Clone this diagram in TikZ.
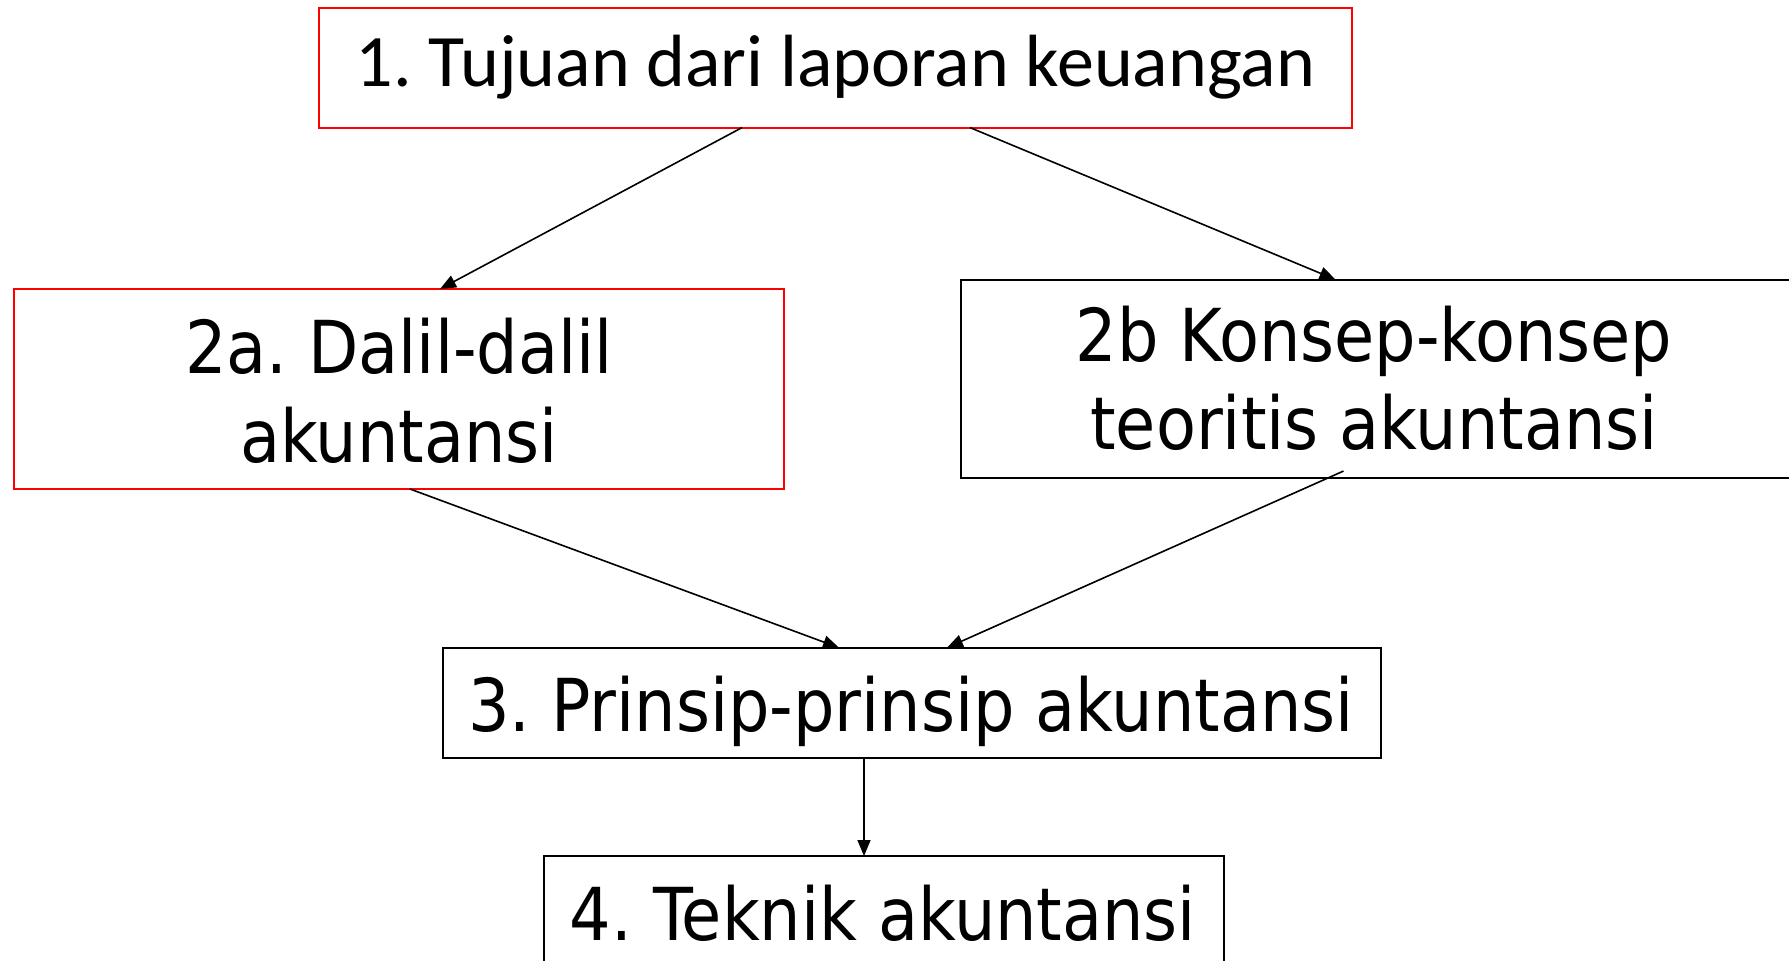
\documentclass[tikz,border=0pt]{standalone}
\usepackage{fontspec}
\setmainfont{DejaVu Sans}
\newfontfamily\calib{Carlito}
\usetikzlibrary{arrows.meta,calc}
\frenchspacing
\begin{document}
\begin{tikzpicture}[x=1pt,y=-1pt,
  redbox/.style={draw=red,line width=2pt,inner sep=0pt,outer sep=0pt},
  blkbox/.style={draw=black,line width=2pt,inner sep=0pt,outer sep=0pt},
  dtxt/.style={anchor=base,inner sep=0pt,font=\fontsize{73}{88}\selectfont},
  ctxt/.style={anchor=base,inner sep=0pt,font=\calib\fontsize{74}{88}\selectfont},
  arr/.style={line width=1.6pt,-{Triangle[length=16pt,width=13pt]}}
]
\useasboundingbox (0,0) rectangle (1789,961);
\fill[white] (0,0) rectangle (1789,961);

% boxes
\node[redbox,minimum width=1033pt,minimum height=120pt] (b1) at (835.5,67.6) {};
\node[redbox,minimum width=770pt,minimum height=200pt] (b2a) at (399,389) {};
\node[blkbox,minimum width=829pt,minimum height=198.5pt] (b2b) at (1375,378.8) {};
\node[blkbox,minimum width=938pt,minimum height=110pt] (b3) at (911.5,702.7) {};
\node[blkbox,minimum width=680pt,minimum height=112pt] (b4) at (884,912) {};

% texts
\node[ctxt] (t1) at (835.5,86) {1. Tujuan dari laporan keuangan};
\node[dtxt] (t2a1) at (399,373) {\scalebox{0.895}[1]{2a. Dalil-dalil}};
\node[dtxt] (t2a2) at (399,462.7) {\scalebox{0.895}[1]{akuntansi}};
\node[dtxt] (t2b1) at (1374,361.7) {\scalebox{0.895}[1]{2b Konsep-konsep}};
\node[dtxt] (t2b2) at (1374,449.3) {\scalebox{0.895}[1]{teoritis akuntansi}};
\node[dtxt] (t3) at (911,731.7) {\scalebox{0.895}[1]{3. Prinsip-prinsip akuntansi}};
\node[dtxt] (t4) at (883,940) {\scalebox{0.895}[1]{4. Teknik akuntansi}};

% connectors
\draw[arr] ([xshift=-93.5pt]b1.south) -- ([xshift=41pt]b2a.north);
\draw[arr] ([xshift=134.5pt]b1.south) -- ([xshift=-39.5pt]b2b.north);
\draw[arr] ([xshift=11pt]b2a.south) -- ([xshift=-72.5pt]b3.north);
\draw[arr] ([xshift=-31.5pt,yshift=7pt]b2b.south) -- ([xshift=35.5pt]b3.north);
\draw[arr] ([xshift=-47.5pt]b3.south) -- ([xshift=-20pt]b4.north);
\end{tikzpicture}
\end{document}
